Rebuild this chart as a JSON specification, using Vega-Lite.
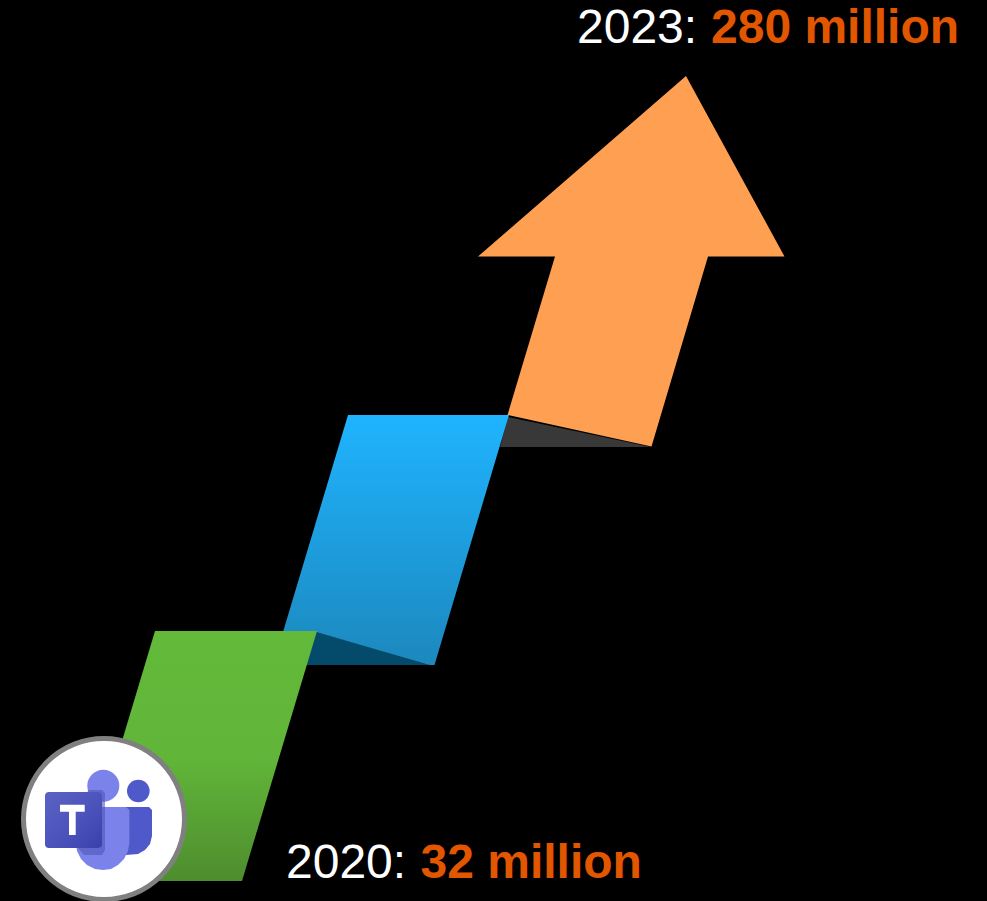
{"$schema":"https://vega.github.io/schema/vega-lite/v6.json","width":987,"height":901,"autosize":{"type":"none"},"padding":0,"background":"#000000","config":{"view":{"stroke":null}},
"datasets":{
"shapes":[
{"shape":"shadowBlue","o":1,"x":316,"y":632},{"shape":"shadowBlue","o":2,"x":434,"y":665},{"shape":"shadowBlue","o":3,"x":306,"y":665},
{"shape":"shadowOrange","o":1,"x":508,"y":417},{"shape":"shadowOrange","o":2,"x":651,"y":447},{"shape":"shadowOrange","o":3,"x":500,"y":447},
{"shape":"blue","o":1,"x":348,"y":415},{"shape":"blue","o":2,"x":509,"y":415},{"shape":"blue","o":3,"x":434.5,"y":665},{"shape":"blue","o":4,"x":430,"y":665},{"shape":"blue","o":5,"x":316,"y":632},{"shape":"blue","o":6,"x":283,"y":632},
{"shape":"green","o":1,"x":155,"y":631},{"shape":"green","o":2,"x":317,"y":631},{"shape":"green","o":3,"x":242,"y":881},{"shape":"green","o":4,"x":80,"y":881},
{"shape":"orange","o":1,"x":686,"y":76},{"shape":"orange","o":2,"x":784.5,"y":256.5},{"shape":"orange","o":3,"x":708,"y":256.5},{"shape":"orange","o":4,"x":651.5,"y":446.5},{"shape":"orange","o":5,"x":507.5,"y":415},{"shape":"orange","o":6,"x":555,"y":256.5},{"shape":"orange","o":7,"x":478,"y":256.5},
{"shape":"bodyDark","o":1,"x":126,"y":807},{"shape":"bodyDark","o":2,"x":149,"y":807},{"shape":"bodyDark","o":3,"x":152,"y":810},{"shape":"bodyDark","o":4,"x":152,"y":836},{"shape":"bodyDark","o":5,"x":150,"y":844},{"shape":"bodyDark","o":6,"x":145,"y":850},{"shape":"bodyDark","o":7,"x":138,"y":854},{"shape":"bodyDark","o":8,"x":126,"y":855},
{"shape":"body","o":1,"x":100,"y":807},{"shape":"body","o":2,"x":126,"y":807},{"shape":"body","o":3,"x":129.4,"y":810},{"shape":"body","o":4,"x":129.4,"y":843},{"shape":"body","o":5,"x":128,"y":851},{"shape":"body","o":6,"x":124,"y":859},{"shape":"body","o":7,"x":118,"y":865},{"shape":"body","o":8,"x":111,"y":869},{"shape":"body","o":9,"x":103,"y":870},{"shape":"body","o":10,"x":95,"y":869},{"shape":"body","o":11,"x":87,"y":865},{"shape":"body","o":12,"x":81,"y":859},{"shape":"body","o":13,"x":77,"y":851},{"shape":"body","o":14,"x":76,"y":843},{"shape":"body","o":15,"x":76,"y":830},
{"shape":"squareShade","o":1,"x":88,"y":790},{"shape":"squareShade","o":2,"x":102,"y":790},{"shape":"squareShade","o":3,"x":105,"y":793},{"shape":"squareShade","o":4,"x":105,"y":850},{"shape":"squareShade","o":5,"x":102,"y":855},{"shape":"squareShade","o":6,"x":84,"y":855},{"shape":"squareShade","o":7,"x":78,"y":848},
{"shape":"square","o":1,"x":48,"y":792},{"shape":"square","o":2,"x":98,"y":792},{"shape":"square","o":3,"x":101,"y":793},{"shape":"square","o":4,"x":102,"y":796},{"shape":"square","o":5,"x":102,"y":845},{"shape":"square","o":6,"x":101,"y":847},{"shape":"square","o":7,"x":98,"y":848},{"shape":"square","o":8,"x":48,"y":848},{"shape":"square","o":9,"x":46,"y":847},{"shape":"square","o":10,"x":45,"y":845},{"shape":"square","o":11,"x":45,"y":795},{"shape":"square","o":12,"x":46,"y":793},
{"shape":"letterT","o":1,"x":60,"y":804.7},{"shape":"letterT","o":2,"x":84.7,"y":804.7},{"shape":"letterT","o":3,"x":84.7,"y":811.7},{"shape":"letterT","o":4,"x":75.7,"y":811.7},{"shape":"letterT","o":5,"x":75.7,"y":835},{"shape":"letterT","o":6,"x":69,"y":835},{"shape":"letterT","o":7,"x":69,"y":811.7},{"shape":"letterT","o":8,"x":60,"y":811.7}
],
"labels":[
{"x":577,"y":43,"text":"2023:","kind":"year"},{"x":711,"y":43,"text":"280 million","kind":"value"},
{"x":286,"y":878,"text":"2020:","kind":"year"},{"x":420.5,"y":878,"text":"32 million","kind":"value"}
],
"discs":[{"x":104,"y":819,"name":"badge"}],
"headA":[{"x":103.3,"y":785.7}],
"headB":[{"x":138.3,"y":791}]
},
"encoding":{
"x":{"field":"x","type":"quantitative","scale":{"domain":[0,987],"nice":false,"zero":false},"axis":null},
"y":{"field":"y","type":"quantitative","scale":{"domain":[0,901],"reverse":true,"nice":false,"zero":false},"axis":null},
"order":{"field":"o","type":"quantitative"}
},
"layer":[
{"data":{"name":"shapes"},"transform":[{"filter":"datum.shape==='shadowBlue'"}],"mark":{"type":"line","fill":"#034a6b","stroke":null}},
{"data":{"name":"shapes"},"transform":[{"filter":"datum.shape==='shadowOrange'"}],"mark":{"type":"line","fill":"#383838","stroke":null}},
{"data":{"name":"shapes"},"transform":[{"filter":"datum.shape==='blue'"}],"mark":{"type":"line","stroke":null,"fill":{"gradient":"linear","x1":0,"y1":0,"x2":0,"y2":1,"stops":[{"offset":0,"color":"#1fb4ff"},{"offset":1,"color":"#1c88bd"}]}}},
{"data":{"name":"shapes"},"transform":[{"filter":"datum.shape==='orange'"}],"mark":{"type":"line","fill":"#ff9f52","stroke":null}},
{"data":{"name":"shapes"},"transform":[{"filter":"datum.shape==='green'"}],"mark":{"type":"line","stroke":null,"fill":{"gradient":"linear","x1":0,"y1":0,"x2":0,"y2":1,"stops":[{"offset":0,"color":"#63b93a"},{"offset":0.5,"color":"#61b639"},{"offset":1,"color":"#4e8d2e"}]}}},
{"data":{"name":"discs"},"mark":{"type":"point","filled":true,"shape":"circle","size":25921,"fill":"#ffffff","stroke":"#808080","strokeWidth":5,"opacity":1}},
{"data":{"name":"headB"},"mark":{"type":"point","filled":true,"shape":"circle","size":511,"fill":"#5059c9","stroke":null,"opacity":1}},
{"data":{"name":"shapes"},"transform":[{"filter":"datum.shape==='bodyDark'"}],"mark":{"type":"line","fill":"#5059c9","stroke":null}},
{"data":{"name":"headA"},"mark":{"type":"point","filled":true,"shape":"circle","size":1024,"fill":"#7b83eb","stroke":null,"opacity":1}},
{"data":{"name":"shapes"},"transform":[{"filter":"datum.shape==='body'"}],"mark":{"type":"line","fill":"#7b83eb","stroke":null}},
{"data":{"name":"shapes"},"transform":[{"filter":"datum.shape==='squareShade'"}],"mark":{"type":"line","fill":"#4f56b8","fillOpacity":0.6,"stroke":null}},
{"data":{"name":"shapes"},"transform":[{"filter":"datum.shape==='square'"}],"mark":{"type":"line","stroke":null,"fill":{"gradient":"linear","x1":0,"y1":0,"x2":1,"y2":1,"stops":[{"offset":0,"color":"#5a62c3"},{"offset":0.5,"color":"#4d55bd"},{"offset":1,"color":"#3940ab"}]}}},
{"data":{"name":"shapes"},"transform":[{"filter":"datum.shape==='letterT'"}],"mark":{"type":"line","fill":"#ffffff","stroke":null}},
{"data":{"name":"labels"},"transform":[{"filter":"datum.kind==='year'"}],"mark":{"type":"text","align":"left","baseline":"alphabetic","font":"Liberation Sans","fontSize":48,"fill":"#ffffff"},"encoding":{"text":{"field":"text"},"order":{"value":null}}},
{"data":{"name":"labels"},"transform":[{"filter":"datum.kind==='value'"}],"mark":{"type":"text","align":"left","baseline":"alphabetic","font":"Liberation Sans","fontSize":48,"fontWeight":"bold","fill":"#e35600"},"encoding":{"text":{"field":"text"},"order":{"value":null}}}
]}
